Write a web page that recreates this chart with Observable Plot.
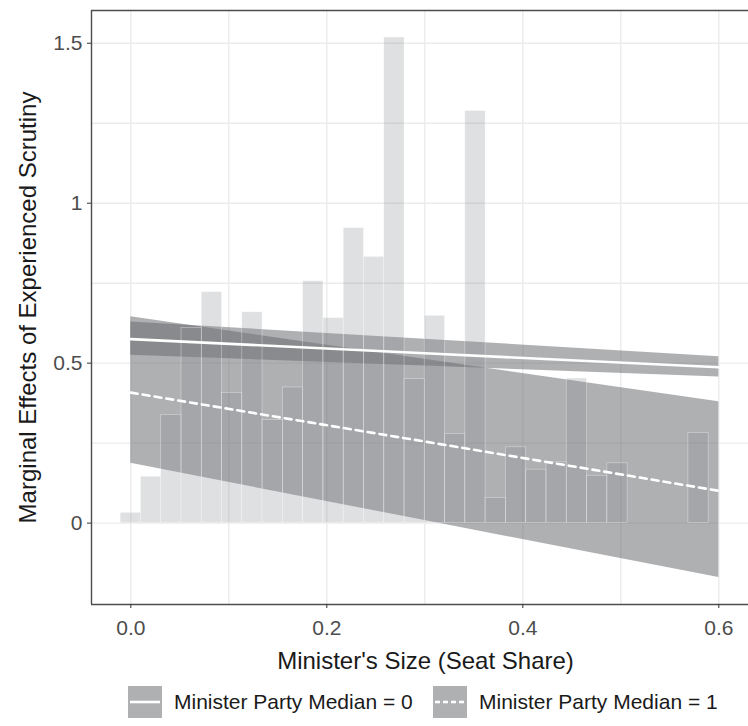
<!DOCTYPE html>
<html>
<head>
<meta charset="utf-8">
<script src="https://cdn.jsdelivr.net/npm/d3@7"></script>
<script src="https://cdn.jsdelivr.net/npm/@observablehq/plot@0.6"></script>
<style>
  html, body { margin: 0; padding: 0; background: #fff; }
  body { width: 748px; height: 726px; overflow: hidden; font-family: "Liberation Sans", Arial, sans-serif; }
  #chart svg { display: block; }
  #legend { position: relative; height: 48px; }
  .item { position: absolute; top: 8px; display: flex; align-items: center; height: 32px; }
  .item span { font-size: 21px; color: #1a1a1a; margin-left: 12px; white-space: nowrap; }
</style>
</head>
<body>
<div id="chart"></div>
<div id="legend"></div>
<script>
// ---- data ----
const binCenters = [0.0000, 0.0207, 0.0414, 0.0621, 0.0828, 0.1034, 0.1241, 0.1448, 0.1655, 0.1862,
                    0.2069, 0.2276, 0.2483, 0.2690, 0.2897, 0.3103, 0.3310, 0.3517, 0.3724, 0.3931,
                    0.4138, 0.4345, 0.4552, 0.4759, 0.4966, 0.5172, 0.5379, 0.5586, 0.5793];
const binHeights = [0.032, 0.145, 0.338, 0.610, 0.722, 0.407, 0.659, 0.322, 0.424, 0.756,
                    0.641, 0.922, 0.832, 1.518, 0.450, 0.648, 0.278, 1.288, 0.079, 0.237,
                    0.167, 0.190, 0.452, 0.148, 0.187, 0, 0, 0, 0.282];
const binWidth = 0.0207;

const fitX = [0, 0.3, 0.6];
const median0Fit   = [0.575, 0.531, 0.487];
const median0Lower = [0.525, 0.491, 0.457];
const median0Upper = [0.629, 0.575, 0.520];
const median1Fit   = [0.408, 0.255, 0.101];
const median1Lower = [0.187, 0.008, -0.170];
const median1Upper = [0.645, 0.512, 0.379];

const xTicks = [0, 0.2, 0.4, 0.6];
const xTickLabels = ["0.0", "0.2", "0.4", "0.6"];
const yTicks = [0, 0.5, 1, 1.5];
const yTickLabels = ["0", "0.5", "1", "1.5"];
const xGrid = [0, 0.1, 0.2, 0.3, 0.4, 0.5, 0.6];
const yGrid = [0, 0.25, 0.5, 0.75, 1, 1.25, 1.5];
const xDomain = [-0.0401, 0.6303];
const yDomain = [-0.2544, 1.6024];

const xTitle = "Minister's Size (Seat Share)";
const yTitle = "Marginal Effects of Experienced Scrutiny";
const legendLabels = ["Minister Party Median = 0", "Minister Party Median = 1"];

// ---- tables ----
const bins = binCenters.map((c, i) => ({x1: c - binWidth / 2, x2: c + binWidth / 2, h: binHeights[i]}));
const band0 = fitX.map((x, i) => ({x, fit: median0Fit[i], lo: median0Lower[i], hi: median0Upper[i]}));
const band1 = fitX.map((x, i) => ({x, fit: median1Fit[i], lo: median1Lower[i], hi: median1Upper[i]}));

const W = 748, H = 678;
const ribbonFill = "#66686c", ribbonOpacity = 0.52;
const axisColor = "#4d4d4d";

const chart = Plot.plot({
  width: W, height: H,
  marginLeft: 91, marginRight: 0, marginTop: 10, marginBottom: H - 604,
  x: {domain: xDomain},
  y: {domain: yDomain},
  style: {fontFamily: "Liberation Sans, Arial, sans-serif", fontSize: "21px", color: "#4d4d4d", background: "#fff"},
  marks: [
    Plot.gridX(xGrid, {stroke: "#ebebeb", strokeOpacity: 1, strokeWidth: 1.4}),
    Plot.gridY(yGrid, {stroke: "#ebebeb", strokeOpacity: 1, strokeWidth: 1.4}),
    Plot.areaY(band1, {x: "x", y1: "lo", y2: "hi", fill: ribbonFill, fillOpacity: ribbonOpacity}),
    Plot.areaY(band0, {x: "x", y1: "lo", y2: "hi", fill: ribbonFill, fillOpacity: ribbonOpacity}),
    Plot.rectY(bins, {x1: "x1", x2: "x2", y1: 0, y2: "h", fill: "#8a8c90", fillOpacity: 0.27, stroke: "#fff", strokeOpacity: 0.45, strokeWidth: 0.7}),
    Plot.line(band0, {x: "x", y: "fit", stroke: "#fff", strokeWidth: 2.6}),
    Plot.line(band1, {x: "x", y: "fit", stroke: "#fff", strokeWidth: 2.6, strokeDasharray: "7,5"}),
    Plot.ruleX([xDomain[0]], {stroke: axisColor, strokeWidth: 1.4}),
    Plot.ruleY([yDomain[0], yDomain[1]], {stroke: axisColor, strokeWidth: 1.4}),
    Plot.axisX(xTicks, {tickFormat: (d, i) => xTickLabels[i], tickSize: 4, tickPadding: 12, stroke: "#333", fill: "#4d4d4d", fontSize: 21, label: null}),
    Plot.axisY(yTicks, {tickFormat: (d, i) => yTickLabels[i], tickSize: 4, tickPadding: 5, stroke: "#333", fill: "#4d4d4d", fontSize: 21, label: null}),
    Plot.text([xTitle], {frameAnchor: "bottom", lineAnchor: "middle", textAnchor: "middle", dy: 57, dx: 5.5, fontSize: 24, fill: "#1a1a1a"}),
    Plot.text([yTitle], {frameAnchor: "left", textAnchor: "middle", lineAnchor: "middle", rotate: -90, dx: -63, fontSize: 24, fill: "#1a1a1a"})
  ]
});
document.getElementById("chart").appendChild(chart);

// ---- legend ----
const legend = document.getElementById("legend");
const swatchLefts = [128, 433];
legendLabels.forEach((label, i) => {
  const item = document.createElement("div");
  item.className = "item";
  item.style.left = swatchLefts[i] + "px";
  const dash = i === 1 ? ' stroke-dasharray="5,3"' : '';
  item.innerHTML = `<svg width="34" height="32"><rect width="34" height="32" fill="${ribbonFill}" fill-opacity="${ribbonOpacity}"/>` +
    `<line x1="2" x2="32" y1="16" y2="16" stroke="#fff" stroke-width="2.6"${dash}/></svg><span>${label}</span>`;
  legend.appendChild(item);
});
</script>
</body>
</html>
